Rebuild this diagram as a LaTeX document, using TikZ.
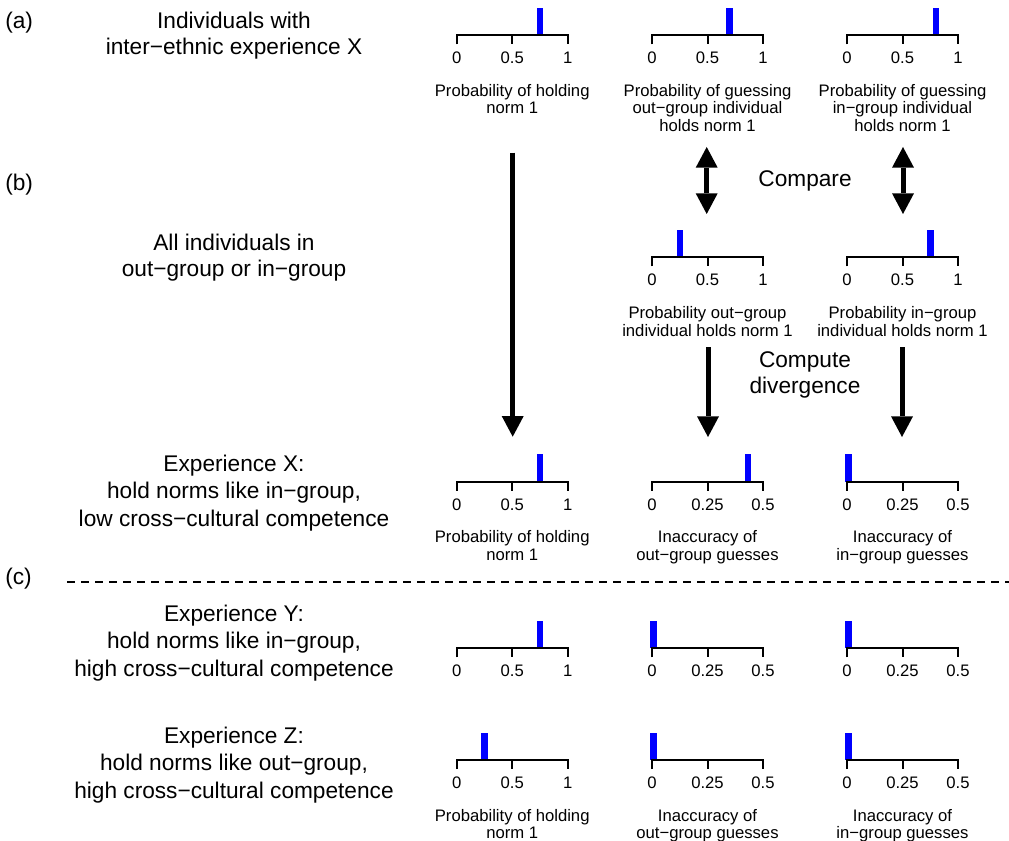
\documentclass[tikz,border=0pt]{standalone}
\usepackage{fontspec}
\newfontfamily\arial{Liberation Sans}
\usetikzlibrary{arrows.meta}
\tikzset{
  big/.style={font=\arial\fontsize{17pt}{20pt}\selectfont, inner sep=0pt, anchor=base},
  small/.style={font=\arial\fontsize{12.5pt}{15pt}\selectfont, inner sep=0pt, anchor=base},
  axisline/.style={line width=1.5pt, line join=miter},
  barfill/.style={fill=blue},
  headtip/.tip={Triangle[length=15.5pt,width=16.5pt,line width=0pt]},
  bigarrow/.style={line width=3.75pt, -headtip},
  dblarrow/.style={line width=3.75pt, headtip-headtip},
  sepline/.style={line width=1.5pt, dash pattern=on 6pt off 4.5pt},
}
% #1 name, #2 x of zero, #3 axis y, #4 bar fraction, #5 middle label, #6 right label
\newcommand\scaleplot[6]{%
  \coordinate (#1) at (#2,#3);
  \fill[barfill] ({#2+#4*111-3.25},{#3-27.5}) rectangle ({#2+#4*111+3.25},#3);
  \draw[axisline] (#2,{#3+9}) -- (#2,#3) -- ({#2+111},#3) -- ({#2+111},{#3+9});
  \draw[axisline] ({#2+55.5},#3) -- ({#2+55.5},{#3+9});
  \node[small] (#1-t0) at (#2,{#3+28.5}) {0};
  \node[small] (#1-t1) at ({#2+55.5},{#3+28.5}) {#5};
  \node[small] (#1-t2) at ({#2+111},{#3+28.5}) {#6};
}
% #1 name, #2 x, #3 first baseline, #4 step, #5 style, #6 lines
\newcommand\mlines[6]{%
  \foreach \linetext [count=\k] in {#6} {\node[#5] (#1-\k) at (#2,{#3+(\k-1)*#4}) {\linetext};}%
}
\begin{document}
\begin{tikzpicture}[x=0.75pt,y=-0.75pt]
\path[use as bounding box] (0,0) rectangle (1009,841);

% panel labels
\node[big,anchor=base west] (pa) at (5,29) {(a)};
\node[big,anchor=base west] (pb) at (5,190.7) {(b)};
\node[big,anchor=base west] (pc) at (5,584.7) {(c)};

% left descriptions
\mlines{la}{234}{28.5}{26.5}{big}{{Individuals with},{inter−ethnic experience X}}
\mlines{lb}{234}{250.5}{26.5}{big}{{All individuals in},{out−group or in−group}}
\mlines{lx}{234}{471}{27.8}{big}{{Experience X:},{hold norms like in−group,},{low cross−cultural competence}}
\mlines{ly}{234}{621}{27.8}{big}{{Experience Y:},{hold norms like in−group,},{high cross−cultural competence}}
\mlines{lz}{234}{743}{27.8}{big}{{Experience Z:},{hold norms like out−group,},{high cross−cultural competence}}

% row (a)
\scaleplot{a1}{456.7}{35.5}{0.75}{0.5}{1}
\scaleplot{a2}{652}{35.5}{0.7}{0.5}{1}
\scaleplot{a3}{847}{35.5}{0.8}{0.5}{1}
\mlines{ca1}{512.2}{96.5}{17.3}{small}{{Probability of holding},{norm 1}}
\mlines{ca2}{707.5}{96.5}{17.3}{small}{{Probability of guessing},{out−group individual},{holds norm 1}}
\mlines{ca3}{902.5}{96.5}{17.3}{small}{{Probability of guessing},{in−group individual},{holds norm 1}}

% middle row
\scaleplot{m2}{652}{257.3}{0.25}{0.5}{1}
\scaleplot{m3}{847}{257.3}{0.75}{0.5}{1}
\mlines{cm2}{707.5}{318.8}{17.3}{small}{{Probability out−group},{individual holds norm 1}}
\mlines{cm3}{902.5}{318.8}{17.3}{small}{{Probability in−group},{individual holds norm 1}}

% row X
\scaleplot{x1}{456.7}{481.7}{0.75}{0.5}{1}
\scaleplot{x2}{652}{481.7}{0.863}{0.25}{0.5}
\scaleplot{x3}{847}{481.7}{0.013}{0.25}{0.5}
\mlines{cx1}{512.2}{542.7}{17.3}{small}{{Probability of holding},{norm 1}}
\mlines{cx2}{707.5}{542.7}{17.3}{small}{{Inaccuracy of},{out−group guesses}}
\mlines{cx3}{902.5}{542.7}{17.3}{small}{{Inaccuracy of},{in−group guesses}}

% separator
\coordinate (sepL) at (67,581.7);
\coordinate (sepR) at (1009,581.7);
\draw[sepline] (sepL) -- (sepR);

% row Y
\scaleplot{y1}{456.7}{648.3}{0.75}{0.5}{1}
\scaleplot{y2}{652}{648.3}{0.013}{0.25}{0.5}
\scaleplot{y3}{847}{648.3}{0.013}{0.25}{0.5}

% row Z
\scaleplot{z1}{456.7}{760}{0.25}{0.5}{1}
\scaleplot{z2}{652}{760}{0.013}{0.25}{0.5}
\scaleplot{z3}{847}{760}{0.013}{0.25}{0.5}
\mlines{cz1}{512.2}{821.5}{17.3}{small}{{Probability of holding},{norm 1}}
\mlines{cz2}{707.5}{821.5}{17.3}{small}{{Inaccuracy of},{out−group guesses}}
\mlines{cz3}{902.5}{821.5}{17.3}{small}{{Inaccuracy of},{in−group guesses}}

% arrows
\coordinate (longS) at (512.7,152.7);
\coordinate (longE) at (512.7,436.7);
\draw[bigarrow] (longS) -- (longE);

\coordinate (cmpLS) at (706.7,147);
\coordinate (cmpLE) at (706.7,214);
\coordinate (cmpRS) at (903,147);
\coordinate (cmpRE) at (903,214);
\draw[dblarrow] (cmpLS) -- (cmpLE);
\draw[dblarrow] (cmpRS) -- (cmpRE);
\node[big] (compare) at (805,187) {Compare};

\coordinate (divLS) at (708,347);
\coordinate (divLE) at (708,437);
\coordinate (divRS) at (902,347);
\coordinate (divRE) at (902,437);
\draw[bigarrow] (divLS) -- (divLE);
\draw[bigarrow] (divRS) -- (divRE);
\mlines{cd}{805}{367}{26.5}{big}{{Compute},{divergence}}
\end{tikzpicture}
\end{document}
